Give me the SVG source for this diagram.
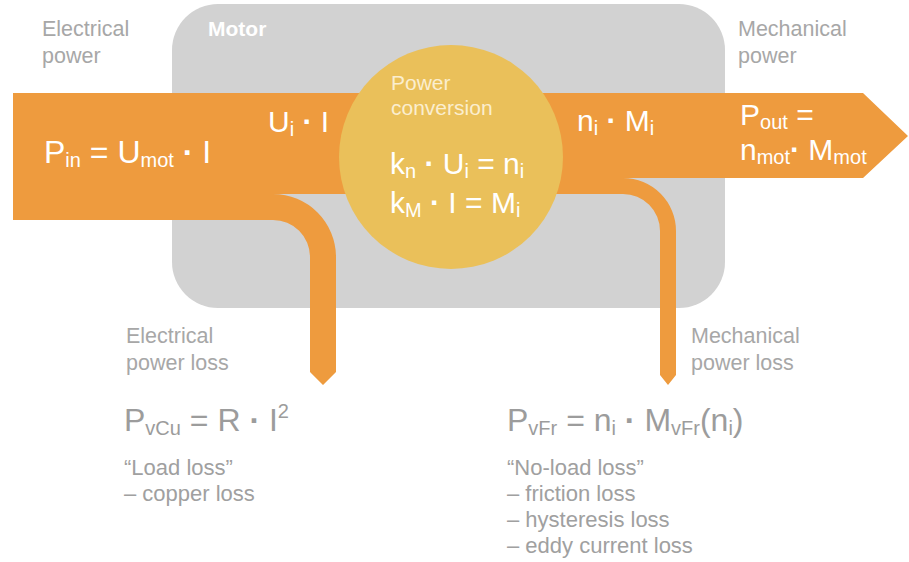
<svg xmlns="http://www.w3.org/2000/svg" width="909" height="562" viewBox="0 0 909 562">
<style>
text{font-family:"Liberation Sans",Arial,Helvetica,sans-serif}
.lbl{font-size:21.5px;fill:#a7a7a7}
.note{font-size:22px;fill:#a0a0a0}
.w{fill:#ffffff}
.big{font-size:32px}
.mid{font-size:30px}
.sub{font-size:20px}
.d{font-weight:bold}
.conv{font-size:21px;fill:#fbeecf}
.gf{fill:#9c9c9c}
.flow{fill:#ee9b3e}
</style>
<g id="motor">
<rect x="172" y="4" width="553" height="304" rx="46" ry="46" fill="#d2d2d2"/>
<text x="208" y="36" font-size="21" font-weight="bold" class="w">Motor</text>
</g>
<g id="connectors">
<path class="flow" d="M13,93 H863 L908,136 L863,178 H623 V194 H273 V220 H13 Z"/>
<path class="flow" d="M273,194 A63,63 0 0 1 336,257 V372 L323,385 L310,372 V257 A37,37 0 0 0 273,220 Z"/>
<path class="flow" d="M623,178 A53,53 0 0 1 676,231 V375 L668,385 L660,375 V231 A37,37 0 0 0 623,194 Z"/>
</g>
<g id="conversion">
<circle cx="451" cy="157" r="112" fill="#eac05a"/>
<text x="391" y="90" class="conv">Power</text>
<text x="391" y="115" class="conv">conversion</text>
<text x="390" y="174" class="mid w">k<tspan class="sub" dy="4">n</tspan><tspan dy="-4"> <tspan class="d">·</tspan> U</tspan><tspan class="sub" dy="4">i</tspan><tspan dy="-4"> = n</tspan><tspan class="sub" dy="4">i</tspan></text>
<text x="390" y="213" class="mid w">k<tspan class="sub" dy="4">M</tspan><tspan dy="-4"> <tspan class="d">·</tspan> I = M</tspan><tspan class="sub" dy="4">i</tspan></text>
</g>
<g id="input">
<text x="42" y="36" class="lbl">Electrical</text>
<text x="42" y="63" class="lbl">power</text>
<text x="44" y="163" class="big w">P<tspan class="sub" dy="4">in</tspan><tspan dy="-4"> = U</tspan><tspan class="sub" dy="4">mot</tspan><tspan dy="-4"> <tspan class="d">·</tspan> I</tspan></text>
<text x="268" y="132" class="mid w">U<tspan class="sub" dy="4">i</tspan><tspan dy="-4"> <tspan class="d">·</tspan> I</tspan></text>
</g>
<g id="output">
<text x="738" y="36" class="lbl">Mechanical</text>
<text x="738" y="63" class="lbl">power</text>
<text x="577" y="131" class="mid w">n<tspan class="sub" dy="4">i</tspan><tspan dy="-4"> <tspan class="d">·</tspan> M</tspan><tspan class="sub" dy="4">i</tspan></text>
<text x="740" y="125" class="mid w">P<tspan class="sub" dy="4">out</tspan><tspan dy="-4"> =</tspan></text>
<text x="740" y="160" class="mid w">n<tspan class="sub" dy="4">mot</tspan><tspan dy="-4"><tspan class="d">·</tspan> M</tspan><tspan class="sub" dy="4">mot</tspan></text>
</g>
<g id="electrical-loss">
<text x="126" y="343" class="lbl">Electrical</text>
<text x="126" y="370" class="lbl">power loss</text>
<text x="124" y="431" class="big gf">P<tspan class="sub" dy="4">vCu</tspan><tspan dy="-4"> = R <tspan class="d">·</tspan> I</tspan><tspan class="sub" dy="-13">2</tspan></text>
<text x="124" y="475" class="note">“Load loss”</text>
<text x="124" y="501" class="note">– copper loss</text>
</g>
<g id="mechanical-loss">
<text x="691" y="343" class="lbl">Mechanical</text>
<text x="691" y="370" class="lbl">power loss</text>
<text x="507" y="431" class="big gf">P<tspan class="sub" dy="4">vFr</tspan><tspan dy="-4"> = n</tspan><tspan class="sub" dy="4">i</tspan><tspan dy="-4"> <tspan class="d">·</tspan> M</tspan><tspan class="sub" dy="4">vFr</tspan><tspan dy="-4">(n</tspan><tspan class="sub" dy="4">i</tspan><tspan dy="-4">)</tspan></text>
<text x="507" y="475" class="note">“No-load loss”</text>
<text x="507" y="501" class="note">– friction loss</text>
<text x="507" y="527" class="note">– hysteresis loss</text>
<text x="507" y="553" class="note">– eddy current loss</text>
</g>
</svg>
